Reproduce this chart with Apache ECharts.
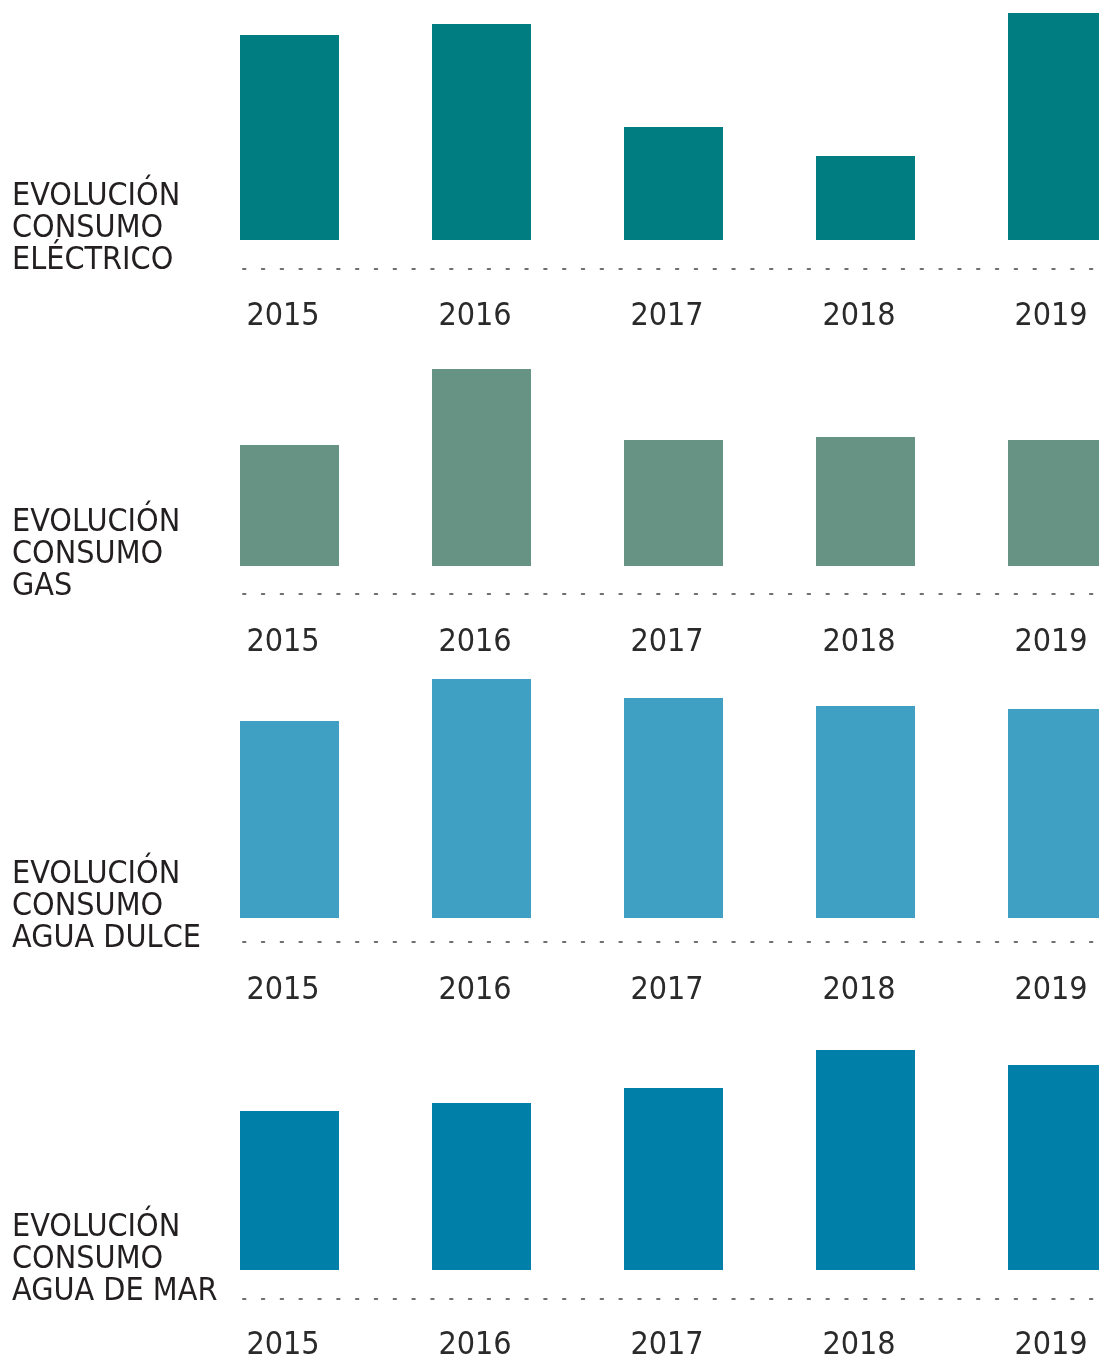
<!DOCTYPE html>
<html>
<head>
<meta charset="utf-8">
<script src="https://cdn.jsdelivr.net/npm/echarts@6/dist/echarts.min.js"></script>
<style>
html,body{margin:0;padding:0;background:#fff;}
#main{width:1099px;height:1360px;}
</style>
</head>
<body>
<div id="main"></div>
<script>
// datos (altura relativa de cada barra)
var years = ['2015', '2016', '2017', '2018', '2019'];
var electrico = [205, 216, 113, 84, 227];
var gas = [121, 197, 126, 129, 126];
var aguaDulce = [197, 239, 220, 212, 209];
var aguaMar = [159, 167, 182, 220, 205];

var titles = [
    'EVOLUCIÓN\nCONSUMO\nELÉCTRICO',
    'EVOLUCIÓN\nCONSUMO\nGAS',
    'EVOLUCIÓN\nCONSUMO\nAGUA DULCE',
    'EVOLUCIÓN\nCONSUMO\nAGUA DE MAR'
];
var seriesData = [electrico, gas, aguaDulce, aguaMar];
var colors = ['#007d80', '#669384', '#3fa0c4', '#0080a8'];

// posiciones de cada panel
var baseY = [240, 566, 918, 1270];     // base de las barras
var dotY = [269, 594, 942, 1299];      // linea de puntos
var titleY = [181, 507, 859, 1212];
var labelMargin = [61, 61, 57, 60];
var FONT = '"DejaVu Sans Condensed", "DejaVu Sans", sans-serif';

var chart = echarts.init(document.getElementById('main'), null, {renderer: 'canvas'});

var option = {
    backgroundColor: '#fff',
    animation: false,
    title: [],
    grid: [],
    xAxis: [],
    yAxis: [],
    series: []
};

for (var i = 0; i < 4; i++) {
    option.title.push({
        text: titles[i],
        left: 12,
        top: titleY[i],
        padding: 0,
        textStyle: {
            fontFamily: FONT,
            fontWeight: 'normal',
            fontSize: 32,
            lineHeight: 32,
            color: '#231f20'
        }
    });
    // grid de las barras (la ultima barra queda cortada por el borde)
    option.grid.push({
        left: 193.5,
        width: 960,
        top: baseY[i] - 240,
        height: 240,
        outerBoundsMode: 'none',
        containLabel: false
    });
    option.xAxis.push({
        type: 'category',
        gridIndex: option.grid.length - 1,
        data: years,
        axisLine: {show: false},
        axisTick: {show: false},
        axisLabel: {
            margin: labelMargin[i],
            fontFamily: FONT,
            fontSize: 32,
            color: '#2a2a2a',
            padding: [0, 13, 0, 0]
        }
    });
    option.yAxis.push({
        type: 'value',
        gridIndex: option.grid.length - 1,
        min: 0,
        max: 240,
        show: false
    });
    option.series.push({
        type: 'bar',
        xAxisIndex: option.xAxis.length - 1,
        yAxisIndex: option.yAxis.length - 1,
        data: seriesData[i],
        barWidth: 99,
        itemStyle: {color: colors[i]}
    });
    // grid solo para la linea de puntos
    option.grid.push({
        left: 243,
        width: 850,
        top: dotY[i] - 10,
        height: 10,
        outerBoundsMode: 'none'
    });
    option.xAxis.push({
        type: 'category',
        gridIndex: option.grid.length - 1,
        data: [''],
        axisLine: {
            show: true,
            lineStyle: {color: '#6f6f6f', width: 2, type: [2.5, 16.32]}
        },
        axisTick: {show: false},
        axisLabel: {show: false}
    });
    option.yAxis.push({
        type: 'value',
        gridIndex: option.grid.length - 1,
        show: false
    });
}

chart.setOption(option);
</script>
</body>
</html>
